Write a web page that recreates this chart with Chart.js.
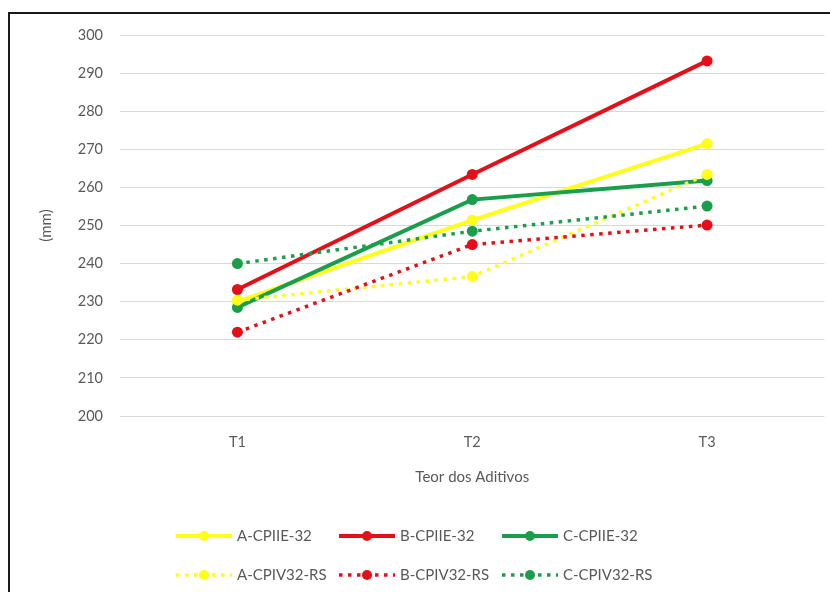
<!doctype html>
<html lang="pt">
<head>
    <meta charset="utf-8">
    <title>Teor dos Aditivos</title>
    <style>
        html, body { margin: 0; padding: 0; background: #fff; overflow: hidden; }
        .frame { position: absolute; left: 8px; top: 12px; width: 840px; height: 600px; border: 2px solid #1a1a1a; box-sizing: border-box; }
        .wrap { position: absolute; left: 0; top: 0; width: 830px; height: 592px; }
    </style>
</head>
<body>
    <div class="frame"></div>
    <div class="wrap"><canvas id="myChart" width="830" height="592"></canvas></div>
    <script src="https://cdn.jsdelivr.net/npm/chart.js@4/dist/chart.umd.min.js"></script>
    <script>
        // カテゴリとデータ
        var categories = ['T1', 'T2', 'T3'];
        var yTicks = [200, 210, 220, 230, 240, 250, 260, 270, 280, 290, 300];

        var seriesNames = ['A-CPIIE-32', 'B-CPIIE-32', 'C-CPIIE-32', 'A-CPIV32-RS', 'B-CPIV32-RS', 'C-CPIV32-RS'];
        var a_cpiie = [230.0, 251.4, 271.5];
        var b_cpiie = [233.2, 263.4, 293.2];
        var c_cpiie = [228.5, 256.8, 261.8];
        var a_cpiv = [230.4, 236.6, 263.4];
        var b_cpiv = [222.0, 245.0, 250.1];
        var c_cpiv = [240.0, 248.5, 255.1];

        var yellow = '#ffff1a';
        var red = '#e3101a';
        var green = '#1a9e4c';
        var grey = '#595959';
        var font = { family: 'Lato', size: 14.5 };

        var makeSet = function (label, data, color, dotted, idx) {
            return {
                label: label,
                data: data,
                borderColor: color,
                backgroundColor: color,
                borderWidth: dotted ? 3.5 : 4,
                borderDash: dotted ? [3.5, 5.5] : [],
                pointRadius: 5.5,
                pointHoverRadius: 5.5,
                pointBorderWidth: 0,
                tension: 0,
                fill: false,
                order: 10 - idx // 後の系列を上に描く
            };
        };

        // 凡例 (線の中央に点) を自前で描く
        var legendPlugin = {
            id: 'excelLegend',
            afterDraw: function (chart) {
                var ctx = chart.ctx;
                var cols = [176, 339, 502];
                var rows = [536, 575];
                chart.data.datasets.forEach(function (ds, i) {
                    var x = cols[i % 3];
                    var y = rows[Math.floor(i / 3)];
                    var len = 56;
                    ctx.save();
                    ctx.strokeStyle = ds.borderColor;
                    ctx.lineWidth = ds.borderWidth;
                    ctx.setLineDash(ds.borderDash);
                    ctx.beginPath();
                    ctx.moveTo(x, y);
                    ctx.lineTo(x + len, y);
                    ctx.stroke();
                    ctx.setLineDash([]);
                    ctx.fillStyle = ds.backgroundColor;
                    ctx.beginPath();
                    ctx.arc(x + len / 2, y, 5, 0, Math.PI * 2);
                    ctx.fill();
                    ctx.fillStyle = grey;
                    ctx.font = '15px ' + font.family;
                    ctx.textBaseline = 'middle';
                    ctx.textAlign = 'left';
                    ctx.fillText(ds.label, x + len + 5, y);
                    ctx.restore();
                });
            }
        };

        var ctx = document.getElementById('myChart').getContext('2d');
        var chart = new Chart(ctx, {
            type: 'line',
            data: {
                labels: categories,
                datasets: [
                    makeSet(seriesNames[0], a_cpiie, yellow, false, 0),
                    makeSet(seriesNames[1], b_cpiie, red, false, 1),
                    makeSet(seriesNames[2], c_cpiie, green, false, 2),
                    makeSet(seriesNames[3], a_cpiv, yellow, true, 3),
                    makeSet(seriesNames[4], b_cpiv, red, true, 4),
                    makeSet(seriesNames[5], c_cpiv, green, true, 5)
                ]
            },
            options: {
                responsive: false,
                animation: false,
                layout: { padding: { left: 30, top: 35, right: 4, bottom: 106 } },
                plugins: {
                    legend: { display: false },
                    tooltip: { enabled: false }
                },
                scales: {
                    x: {
                        offset: true,
                        grid: { display: false },
                        border: { display: false },
                        ticks: { color: grey, font: font, padding: 10 },
                        title: { display: true, text: 'Teor dos Aditivos', color: grey, font: { family: font.family, size: 15 }, padding: { top: 0, bottom: 0 } },
                        afterFit: function (scale) { scale.height = 70; }
                    },
                    y: {
                        min: yTicks[0],
                        max: yTicks[yTicks.length - 1],
                        afterBuildTicks: function (scale) {
                            scale.ticks = yTicks.map(function (v) { return { value: v }; });
                        },
                        grid: { color: '#d9d9d9', lineWidth: 1, drawTicks: false },
                        border: { display: false },
                        ticks: { color: grey, font: font, padding: 17 },
                        title: { display: true, text: '(mm)', color: grey, font: { family: font.family, size: 15 }, padding: { top: 7, bottom: 0 } },
                        afterFit: function (scale) { scale.width = 90; }
                    }
                }
            },
            plugins: [legendPlugin]
        });
    </script>
</body>
</html>
